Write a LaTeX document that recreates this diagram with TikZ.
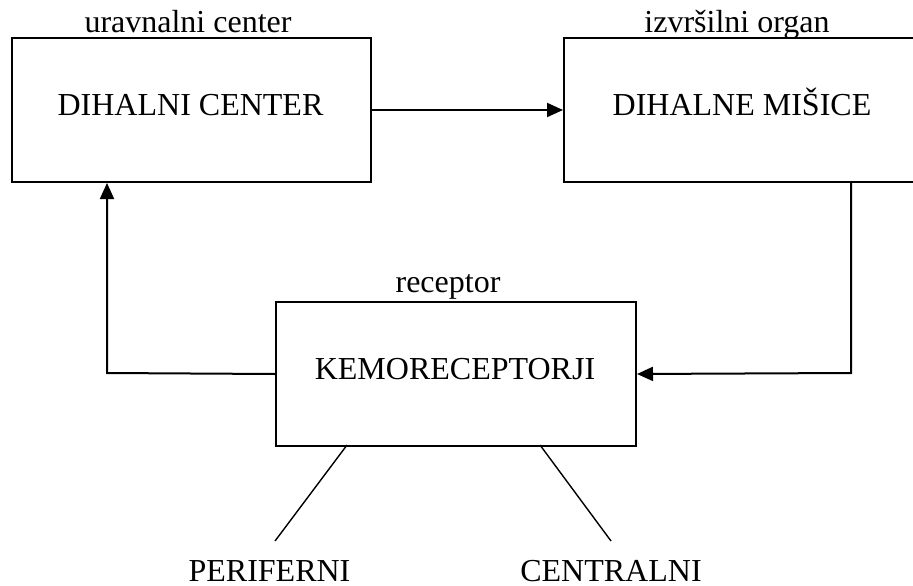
\documentclass[tikz,border=0pt]{standalone}
\usepackage{fontspec}
\setmainfont{Liberation Serif}
\usetikzlibrary{arrows.meta}
\tikzset{
  blockbox/.style={draw, line width=2pt, minimum width=#1, minimum height=144pt, inner sep=0pt, anchor=north west},
  capsfont/.style={font=\fontsize{32}{38}\selectfont, anchor=base, inner sep=0pt},
  smallfont/.style={font=\fontsize{32}{38}\selectfont, anchor=base, inner sep=0pt},
  flow/.style={line width=2pt, -{Triangle[length=16pt,width=14pt]}},
  branch/.style={line width=1.4pt}
}
\begin{document}
\begin{tikzpicture}[x=1pt,y=-1pt]
  \clip (0,0) rectangle (913,586);
  \fill[white] (0,0) rectangle (913,586);

  % blocks
  \node[blockbox=359pt] (dc) at (11,37) {};
  \node[blockbox=358pt] (dm) at (563,37) {};
  \node[blockbox=360pt] (ke) at (275,301) {};

  % block texts
  \node[capsfont] (tdc) at (190.5,115) {DIHALNI CENTER};
  \node[capsfont] (tdm) at (742,115) {DIHALNE MIŠICE};
  \node[capsfont] (tke) at (455,379) {KEMORECEPTORJI};

  % role labels above the blocks
  \node[smallfont] (ldc) at (188,33) {uravnalni center};
  \node[smallfont] (ldm) at (737,33) {izvršilni organ};
  \node[smallfont] (lke) at (448,292) {receptor};

  % receptor types
  \node[capsfont] (per) at (269.5,581.5) {PERIFERNI};
  \node[capsfont] (cen) at (611,581.5) {CENTRALNI};

  % feedback loop
  \coordinate (fbL) at (107,373);
  \coordinate (fbR) at (851,373);
  \draw[flow] (dc.east) -- (dm.west);
  \draw[flow] (fbR |- dm.south) -- (fbR) -- (ke.east);
  \draw[flow] (ke.west) -- (fbL) -- (fbL |- dc.south);

  % branches to the receptor types
  \coordinate (bl0) at (347,445);
  \coordinate (bl1) at (275,541);
  \coordinate (br0) at (540,445);
  \coordinate (br1) at (611,541);
  \draw[branch] (bl0) -- (bl1);
  \draw[branch] (br0) -- (br1);
\end{tikzpicture}
\end{document}
